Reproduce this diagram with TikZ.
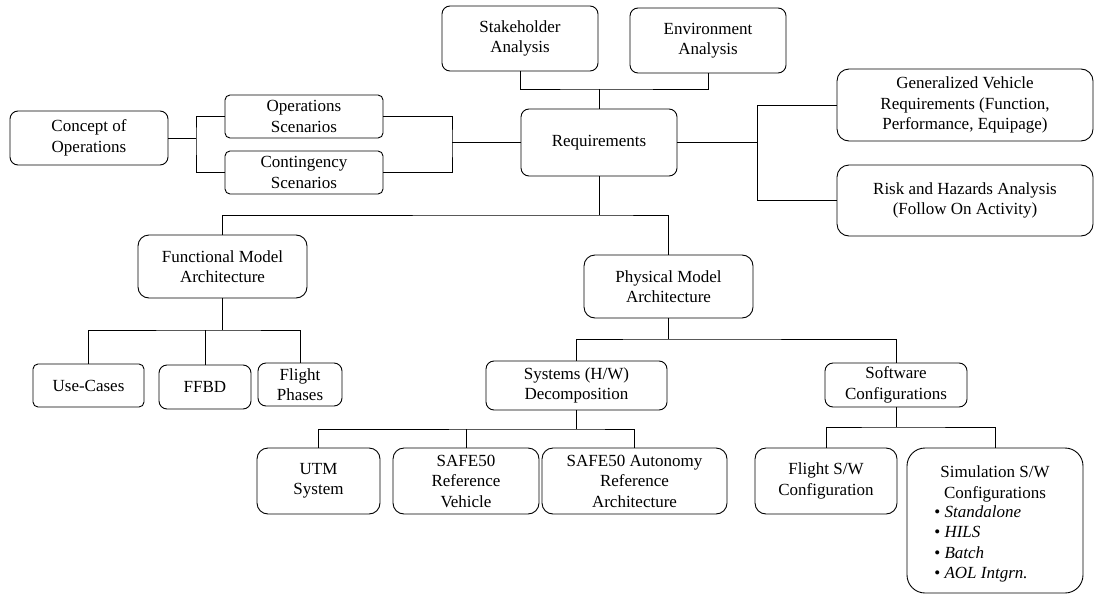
\documentclass[tikz,border=0pt]{standalone}
\usepackage{fontspec}
\setmainfont{Liberation Serif}
\usepackage{tikz}

\begin{document}
\begin{tikzpicture}[x=1pt,y=-1pt,
  box/.style={draw, line width=0.9pt, rounded corners=8pt, align=center, inner sep=0pt,
    font=\fontsize{17}{20.5}\selectfont},
  link/.style={line width=1pt}]
\useasboundingbox (0,0) rectangle (1094,594);

\node[box, minimum width=156, minimum height=65] (stake) at (520,38.5) {Stakeholder\\Analysis};
\node[box, minimum width=156, minimum height=65] (env) at (708,40.5) {Environment\\Analysis};
\node[box, minimum width=156, minimum height=67] (req) at (599,142.5) {Requirements};
\node[box, minimum width=158, minimum height=54] (con) at (89,138) {Concept of\\Operations};
\node[box, minimum width=158, minimum height=43, rounded corners=5pt] (ops) at (304,116.5) {Operations\\Scenarios};
\node[box, minimum width=158, minimum height=43, rounded corners=5pt] (cont) at (304,172.5) {Contingency\\Scenarios};
\node[box, minimum width=256, minimum height=72, rounded corners=12pt] (gen) at (965,105) {Generalized Vehicle\\Requirements (Function,\\Performance, Equipage)};
\node[box, minimum width=256, minimum height=71, rounded corners=12pt] (risk) at (965,200.5) {Risk and Hazards Analysis\\(Follow On Activity)};
\node[box, minimum width=169, minimum height=63, rounded corners=11pt] (func) at (222.5,266.5) {Functional Model\\Architecture};
\node[box, minimum width=169, minimum height=63, rounded corners=11pt] (phys) at (668.5,286.5) {Physical Model\\Architecture};
\node[box, minimum width=111, minimum height=43, rounded corners=5pt] (use) at (88.5,385.5) {Use-Cases};
\node[box, minimum width=92, minimum height=44] (ffbd) at (205,387) {FFBD};
\node[box, minimum width=84, minimum height=43] (phase) at (300,384.5) {Flight\\Phases};
\node[box, minimum width=181, minimum height=49] (sys) at (576.5,385.5) {Systems (H/W)\\Decomposition};
\node[box, minimum width=142, minimum height=44] (soft) at (896,385) {Software\\Configurations};
\node[box, minimum width=123, minimum height=66, rounded corners=11pt] (utm) at (318.5,481) {UTM\\System};
\node[box, minimum width=146, minimum height=66, rounded corners=11pt] (ref) at (466,481) {SAFE50\\Reference\\Vehicle};
\node[box, minimum width=185, minimum height=66, rounded corners=11pt] (auto) at (634.5,481) {SAFE50 Autonomy\\Reference\\Architecture};
\node[box, minimum width=142, minimum height=66, rounded corners=11pt] (fsw) at (826,481) {Flight S/W\\Configuration};
\node[box, minimum width=176, minimum height=145, rounded corners=18pt] (sim) at (995,520.5)
  {\rule{0pt}{22pt}Simulation S/W\\Configurations\\
   \begin{tabular}{@{}l@{}}\textbullet\ \textit{Standalone}\\\textbullet\ \textit{HILS}\\\textbullet\ \textit{Batch}\\\textbullet\ \textit{AOL Intgrn.}\end{tabular}\hspace*{28pt}};

\coordinate (topj) at (599,89);
\coordinate (lj) at (452,142.5);
\coordinate (cj) at (196,138);
\coordinate (rj) at (757,142.5);
\coordinate (mj) at (599,215);
\coordinate (fj) at (222.5,330);
\coordinate (pj) at (668.5,339);
\coordinate (sj) at (576.5,429);
\coordinate (wj) at (896,427);

\draw[link] (stake.south) |- (topj) -| (env.south);
\draw[link] (topj) -- (req.north);
\draw[link] (req.west) -- (lj);
\draw[link] (ops.east) -| (lj) |- (cont.east);
\draw[link] (con.east) -- (cj);
\draw[link] (ops.west) -| (cj) |- (cont.west);
\draw[link] (req.east) -- (rj);
\draw[link] (gen.west) -| (rj) |- (risk.west);
\draw[link] (req.south) -- (mj);
\draw[link] (func.north) |- (mj) -| (phys.north);
\draw[link] (func.south) -- (fj);
\draw[link] (use.north) |- (fj) -| (phase.north);
\draw[link] (ffbd.north) -- (ffbd.north |- fj);
\draw[link] (phys.south) -- (pj);
\draw[link] (sys.north) |- (pj) -| (soft.north);
\draw[link] (sys.south) -- (sj);
\draw[link] (utm.north) |- (sj) -| (auto.north);
\draw[link] (ref.north) -- (ref.north |- sj);
\draw[link] (soft.south) -- (wj);
\draw[link] (fsw.north) |- (wj) -| (sim.north);
\end{tikzpicture}
\end{document}
